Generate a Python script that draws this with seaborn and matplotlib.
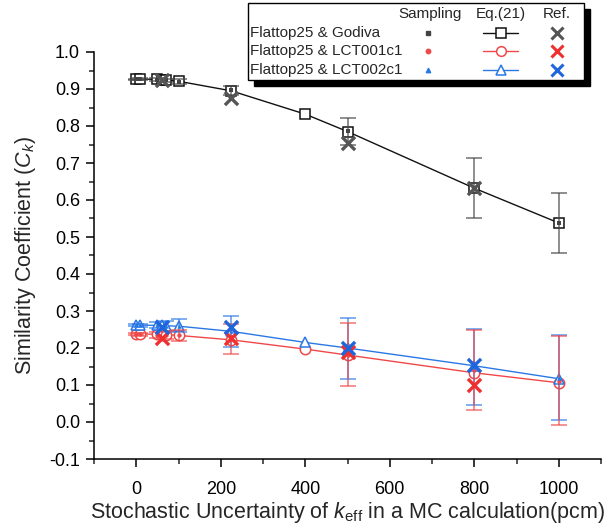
import seaborn as sns
import matplotlib.pyplot as plt
from matplotlib.lines import Line2D
from matplotlib.patches import Rectangle
from matplotlib.ticker import MultipleLocator

# Eq.(21) curves
x_eq = [0, 10, 50, 60, 70, 100, 225, 400, 500, 800, 1000]
godiva_eq = [0.927, 0.927, 0.926, 0.925, 0.924, 0.921, 0.895, 0.832, 0.785, 0.632, 0.538]
lct1_eq = [0.238, 0.238, 0.237, 0.236, 0.236, 0.234, 0.222, 0.197, 0.181, 0.133, 0.106]
lct2_eq = [0.262, 0.262, 0.261, 0.261, 0.260, 0.259, 0.245, 0.215, 0.200, 0.152, 0.117]

# sampling results with their uncertainties
x_samp = [0, 10, 50, 70, 100, 225, 500, 800, 1000]
godiva_samp = [0.926, 0.926, 0.925, 0.923, 0.920, 0.897, 0.786, 0.632, 0.538]
godiva_err = [0.002, 0.003, 0.004, 0.005, 0.006, 0.012, 0.036, 0.081, 0.081]
lct1_samp = [0.237, 0.237, 0.236, 0.235, 0.234, 0.224, 0.182, 0.140, 0.112]
lct1_err = [0.003, 0.004, 0.008, 0.012, 0.016, 0.040, 0.085, 0.108, 0.120]
lct2_samp = [0.262, 0.262, 0.261, 0.260, 0.260, 0.245, 0.199, 0.149, 0.120]
lct2_err = [0.003, 0.004, 0.008, 0.013, 0.018, 0.042, 0.083, 0.103, 0.115]

# reference values
x_ref = [60, 225, 500, 800]
godiva_ref = [0.924, 0.875, 0.754, 0.632]
lct1_ref = [0.228, 0.226, 0.190, 0.100]
lct2_ref = [0.258, 0.257, 0.200, 0.155]

names = ["Flattop25 & Godiva", "Flattop25 & LCT001c1", "Flattop25 & LCT002c1"]
line_cols = ["#111111", "#f04848", "#2a78e4"]
samp_cols = ["#444444", "#f04848", "#2a78e4"]
ref_cols = ["#555555", "#ee3030", "#1f66dd"]
eq_markers = ["s", "o", "^"]

sns.set_style("ticks")
plt.rcParams["font.family"] = ["Liberation Sans", "DejaVu Sans"]
plt.rcParams["mathtext.fontset"] = "custom"
plt.rcParams["mathtext.rm"] = "Liberation Sans"
plt.rcParams["mathtext.it"] = "Liberation Sans:italic"

fig = plt.figure(figsize=(6.14, 5.28), dpi=100)
ax = fig.add_axes([94 / 614, 1 - 459 / 528, 507 / 614, 407 / 528])

eq_sets = [godiva_eq, lct1_eq, lct2_eq]
samp_sets = [(godiva_samp, godiva_err), (lct1_samp, lct1_err), (lct2_samp, lct2_err)]
ref_sets = [godiva_ref, lct1_ref, lct2_ref]

for i in range(3):
    sns.lineplot(x=x_eq, y=eq_sets[i], ax=ax, color=line_cols[i], lw=1.0,
                 marker=eq_markers[i], markersize=7.5, markerfacecolor="white",
                 markeredgecolor=line_cols[i], markeredgewidth=1.1, zorder=2)

# blue bars first so the red ones sit on top, as in the source figure
for i in [0, 2, 1]:
    ys, es = samp_sets[i]
    ax.errorbar(x_samp, ys, yerr=es, fmt="none", ecolor=samp_cols[i], alpha=0.7,
                elinewidth=1.2, capsize=6, capthick=1.2, zorder=3)
for i in range(3):
    ys, es = samp_sets[i]
    sns.scatterplot(x=x_samp, y=ys, ax=ax, color=samp_cols[i], marker=eq_markers[i],
                    s=10, linewidth=0, zorder=4)

for i in range(3):
    sns.scatterplot(x=x_ref, y=ref_sets[i], ax=ax, color=ref_cols[i], marker="x",
                    s=90, linewidth=2.4, zorder=5)

ax.set_xlim(-100, 1100)
ax.set_ylim(-0.1, 1.0)
ax.xaxis.set_major_locator(MultipleLocator(200))
ax.xaxis.set_minor_locator(MultipleLocator(100))
ax.yaxis.set_major_locator(MultipleLocator(0.1))
ax.yaxis.set_minor_locator(MultipleLocator(0.05))
ax.yaxis.set_major_formatter(plt.FuncFormatter(lambda v, p: f"{v:.1f}"))
ax.tick_params(which="major", direction="out", length=6, width=1.1, labelsize=13, colors="black")
ax.tick_params(which="minor", direction="out", length=3.5, width=1.1)
ax.tick_params(axis="x", which="major", pad=10)
ax.tick_params(axis="y", which="major", pad=4)
sns.despine(ax=ax)
for s in ["left", "bottom"]:
    ax.spines[s].set_linewidth(1.1)
    ax.spines[s].set_color("black")

ax.set_xlabel(r"Stochastic Uncertainty of $k_{\rm eff}$ in a MC calculation(pcm)", fontsize=15.5, labelpad=1)
ax.set_ylabel(r"Similarity Coefficient ($C_k$)", fontsize=15.5, labelpad=8)


# legend drawn as a small table in figure pixels
def fx(px):
    return px / 614


def fy(py):
    return 1 - py / 528


fig.add_artist(Rectangle((fx(254), fy(86)), 336 / 614, 77 / 528, transform=fig.transFigure,
                         facecolor="black", edgecolor="black", zorder=10))
fig.add_artist(Rectangle((fx(248), fy(80)), 336 / 614, 77 / 528, transform=fig.transFigure,
                         facecolor="white", edgecolor="black", lw=1.0, zorder=11))
for label, cx in [("Sampling", 430), ("Eq.(21)", 501), ("Ref.", 557)]:
    fig.text(fx(cx), fy(14), label, ha="center", va="center", fontsize=11, zorder=12)
for i, row_y in enumerate([33, 51, 70]):
    fig.text(fx(250), fy(row_y), names[i], ha="left", va="center", fontsize=11, zorder=12)
    fig.add_artist(Line2D([fx(428)], [fy(row_y)], transform=fig.transFigure, ls="none",
                          marker=eq_markers[i], ms=3.2, color=samp_cols[i], zorder=12))
    fig.add_artist(Line2D([fx(483), fx(518)], [fy(row_y), fy(row_y)], transform=fig.transFigure,
                          color=line_cols[i], lw=1.0, zorder=12))
    fig.add_artist(Line2D([fx(500.5)], [fy(row_y)], transform=fig.transFigure, ls="none",
                          marker=eq_markers[i], ms=7, mfc="white", mec=line_cols[i],
                          mew=1.1, zorder=13))
    fig.add_artist(Line2D([fx(557)], [fy(row_y)], transform=fig.transFigure, ls="none",
                          marker="x", ms=8, mew=2.2, color=ref_cols[i], zorder=12))

fig.savefig("out.png", dpi=100, facecolor="white")
